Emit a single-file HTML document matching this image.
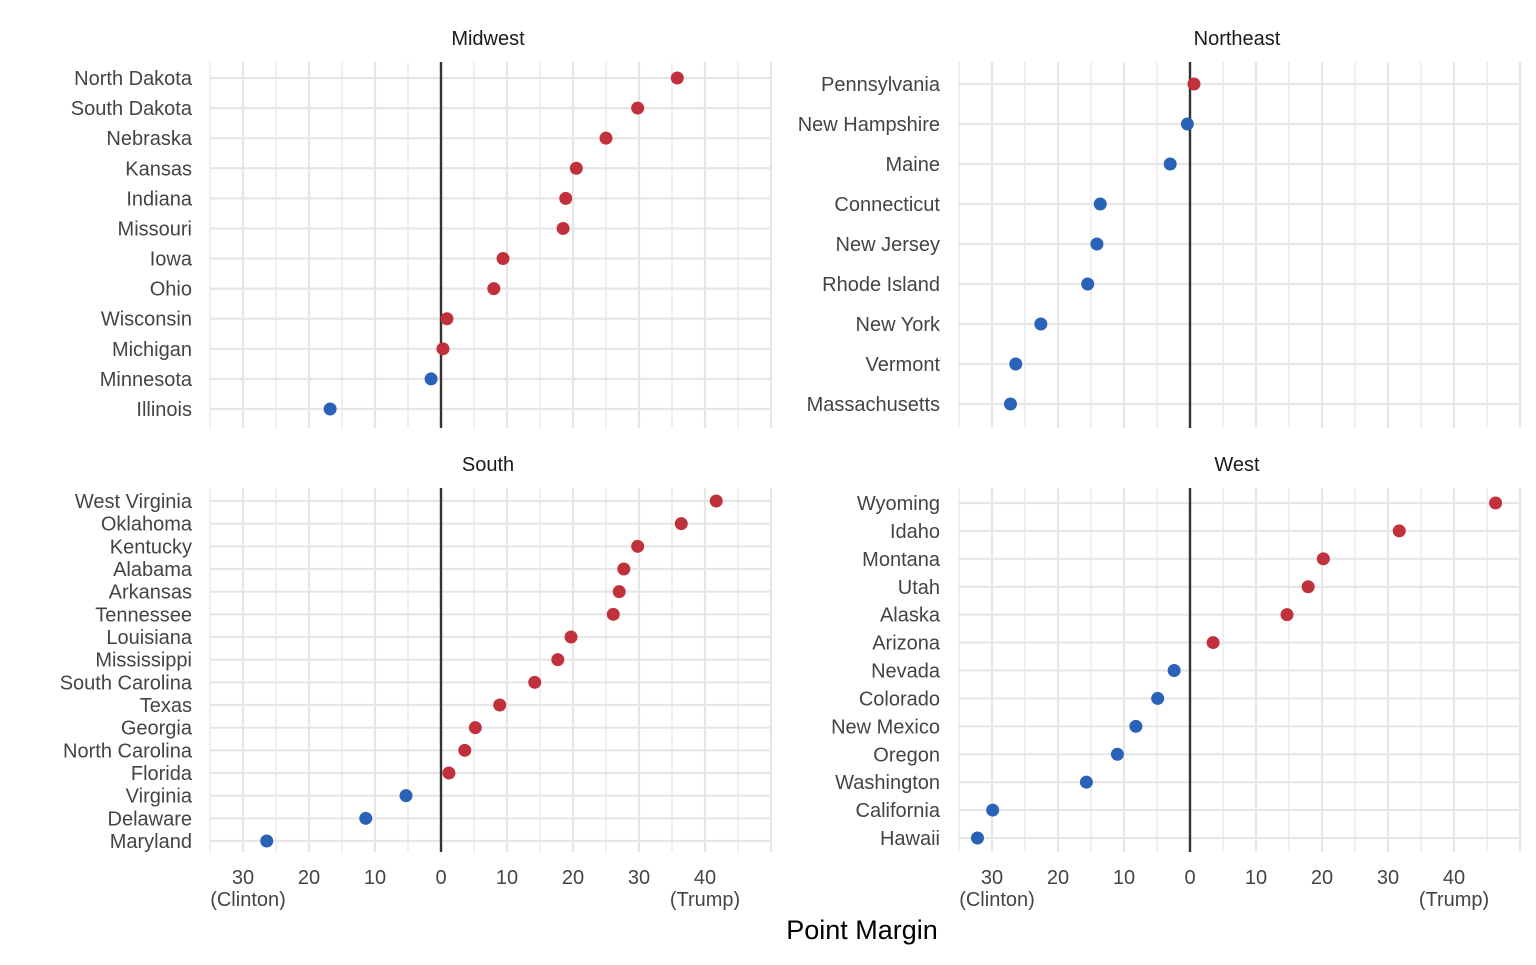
<!DOCTYPE html>
<html><head><meta charset="utf-8">
<style>
body{margin:0;background:#fff;font-family:"Liberation Sans",Arial,sans-serif;}
svg text{font-family:"Liberation Sans",Arial,sans-serif;}
</style></head>
<body>
<svg id="chart" width="1536" height="960" xmlns="http://www.w3.org/2000/svg"></svg>
<script>
const midwestStates=["North Dakota","South Dakota","Nebraska","Kansas","Indiana","Missouri","Iowa","Ohio","Wisconsin","Michigan","Minnesota","Illinois"];
const midwestValues=[35.8,29.8,25.0,20.5,18.9,18.5,9.4,8.0,0.9,0.3,-1.5,-16.8];
const northeastStates=["Pennsylvania","New Hampshire","Maine","Connecticut","New Jersey","Rhode Island","New York","Vermont","Massachusetts"];
const northeastValues=[0.6,-0.4,-3.0,-13.6,-14.1,-15.5,-22.6,-26.4,-27.2];
const southStates=["West Virginia","Oklahoma","Kentucky","Alabama","Arkansas","Tennessee","Louisiana","Mississippi","South Carolina","Texas","Georgia","North Carolina","Florida","Virginia","Delaware","Maryland"];
const southValues=[41.7,36.4,29.8,27.7,27.0,26.1,19.7,17.7,14.2,8.9,5.2,3.6,1.2,-5.3,-11.4,-26.4];
const westStates=["Wyoming","Idaho","Montana","Utah","Alaska","Arizona","Nevada","Colorado","New Mexico","Oregon","Washington","California","Hawaii"];
const westValues=[46.3,31.7,20.2,17.9,14.7,3.5,-2.4,-4.9,-8.2,-11.0,-15.7,-29.9,-32.2];
const tickValues=[-30,-20,-10,0,10,20,30,40];
const tickLabels=["30","20","10","0","10","20","30","40"];

const svg=document.getElementById('chart');
const NS="http://www.w3.org/2000/svg";
function mk(tag,attrs,parent){const e=document.createElementNS(NS,tag);for(const k in attrs)e.setAttribute(k,attrs[k]);(parent||svg).appendChild(e);return e;}

const panels=[
 {name:"Midwest",states:midwestStates,vals:midwestValues,x0:441,left:210,right:770,top:62,bottom:428,y1:78,y2:409,showX:false},
 {name:"Northeast",states:northeastStates,vals:northeastValues,x0:1190,left:958,right:1520,top:62,bottom:428,y1:84,y2:404,showX:false},
 {name:"South",states:southStates,vals:southValues,x0:441,left:210,right:770,top:488,bottom:852,y1:501,y2:841,showX:true},
 {name:"West",states:westStates,vals:westValues,x0:1190,left:958,right:1520,top:488,bottom:852,y1:503,y2:838,showX:true}
];
const unit=6.6;
panels.forEach(p=>{
 const g=mk('g',{});
 
 
 const xs=v=>p.x0+v*unit;
 const n=p.states.length;
 const ys=i=>p.y1+(p.y2-p.y1)*i/(n-1);
 for(let v=-35;v<=50;v+=5){
  const x=xs(v); if(x<p.left-1||x>p.right+1)continue;
  const major=v%10===0;
  mk('line',{x1:x,x2:x,y1:p.top,y2:p.bottom,stroke:'#e6e6e6','stroke-width':major?2.2:1.2},g);
 }
 for(let i=0;i<n;i++) mk('line',{x1:p.left,x2:p.right,y1:ys(i),y2:ys(i),stroke:'#e6e6e6','stroke-width':2.2},g);
 mk('line',{x1:xs(0),x2:xs(0),y1:p.top,y2:p.bottom,stroke:'#333','stroke-width':2.4},g);
 const t=mk('text',{x:(p.left+p.right)/2-2,y:p.top-17,'text-anchor':'middle','font-size':20,fill:'#1a1a1a'},g);
 t.textContent=p.name;
 
 
 for(let i=0;i<n;i++){
  const l=mk('text',{x:p.left-18,y:ys(i)+7,'text-anchor':'end','font-size':20,fill:'#444'},g);
  l.textContent=p.states[i];
  
  
  const c=mk('circle',{cx:xs(p.vals[i]),cy:ys(i),r:6.5,fill:p.vals[i]>=0?'#c1313b':'#2a62b8'},g);
  
  
 }
 if(p.showX){
  tickValues.forEach((v,i)=>{
   const tl=mk('text',{x:xs(v),y:p.bottom+32,'text-anchor':'middle','font-size':20,fill:'#444'},g);
   tl.textContent=tickLabels[i];
   
   
  });
  const a=mk('text',{x:xs(-30)+5,y:p.bottom+54,'text-anchor':'middle','font-size':20,fill:'#444'},g);
  a.textContent='(Clinton)';
  
  
  const b=mk('text',{x:xs(40),y:p.bottom+54,'text-anchor':'middle','font-size':20,fill:'#444'},g);
  b.textContent='(Trump)';
  
  
 }
});
const xt=mk('text',{x:862,y:939,'text-anchor':'middle','font-size':27,fill:'#000'});
xt.textContent='Point Margin';


</script>
</body></html>
